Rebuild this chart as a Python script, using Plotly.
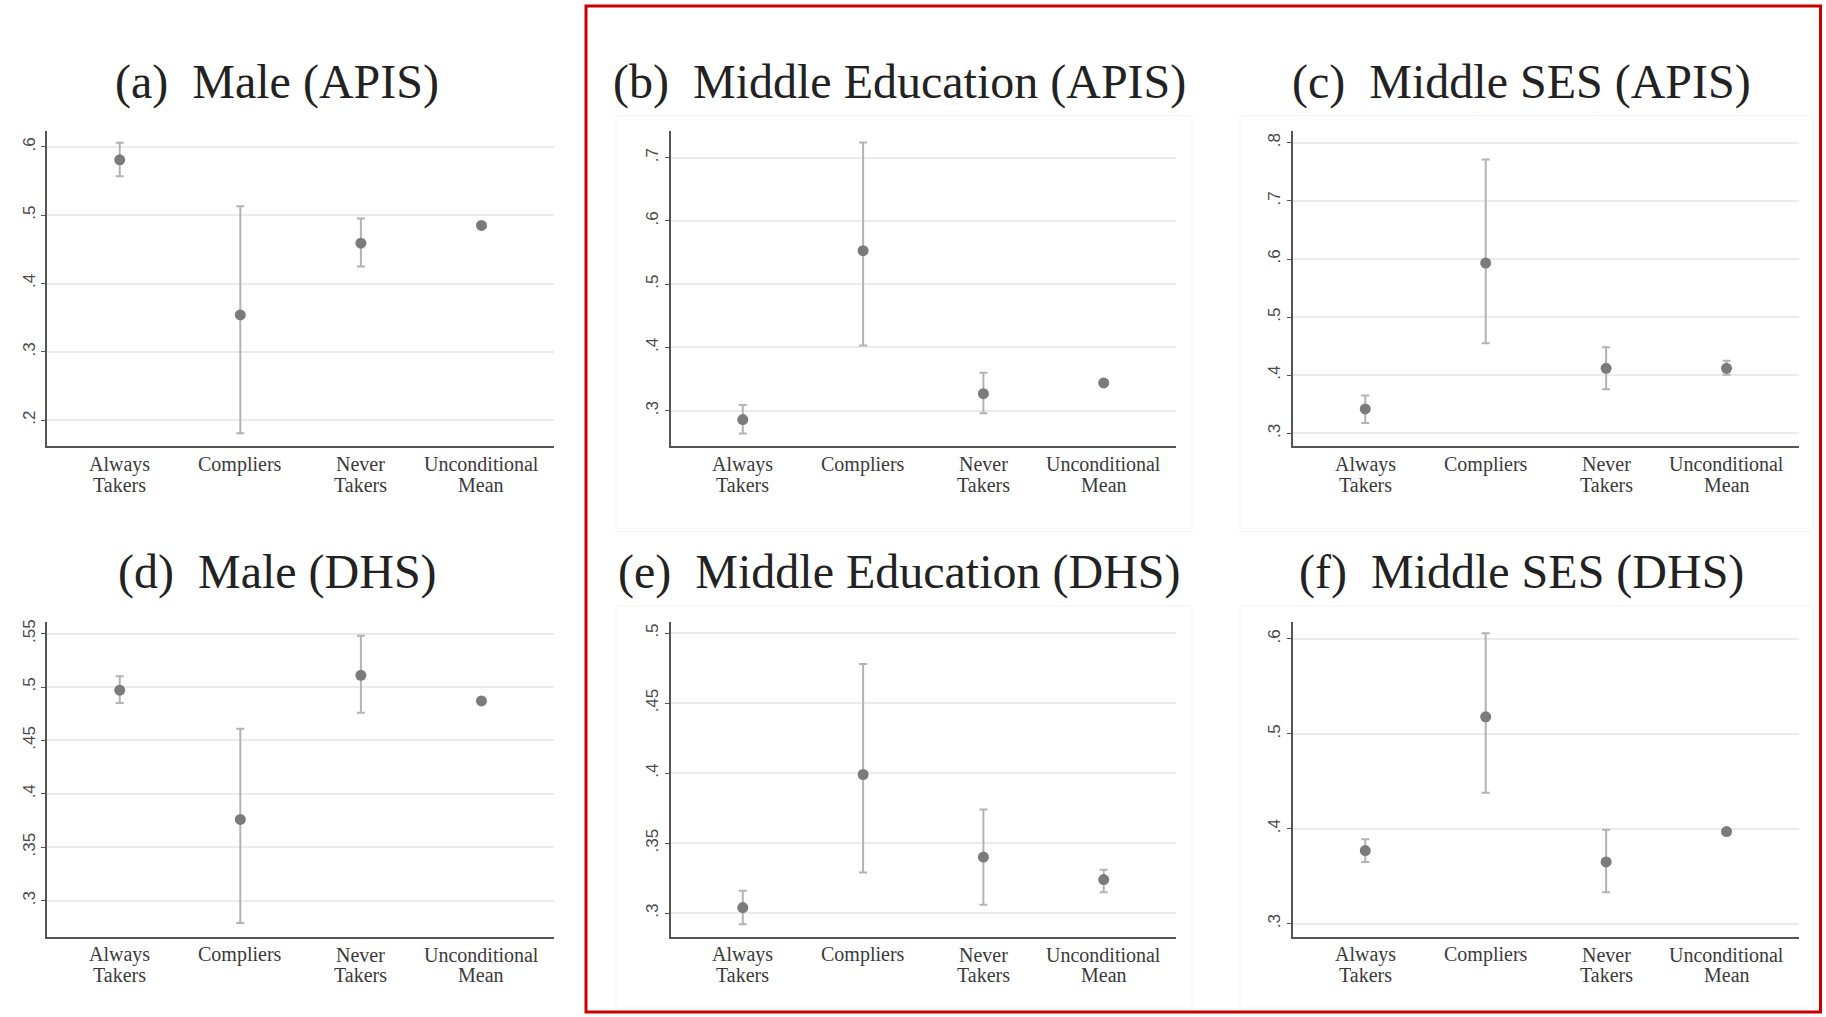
import plotly.graph_objects as go

W, H = 1826, 1017

# ---- data -------------------------------------------------------------
categories = ["Always Takers", "Compliers", "Never Takers", "Unconditional Mean"]
category_labels = ["Always<br>Takers", "Compliers", "Never<br>Takers", "Unconditional<br>Mean"]

titles = [
    "(a)  Male (APIS)",
    "(b)  Middle Education (APIS)",
    "(c)  Middle SES (APIS)",
    "(d)  Male (DHS)",
    "(e)  Middle Education (DHS)",
    "(f)  Middle SES (DHS)",
]

# point estimates and 95% confidence bounds (None = no interval drawn)
est_a = [0.581, 0.354, 0.459, 0.485]
lo_a = [0.557, 0.181, 0.425, None]
hi_a = [0.606, 0.513, 0.495, None]

est_b = [0.286, 0.553, 0.327, 0.344]
lo_b = [0.264, 0.403, 0.296, None]
hi_b = [0.309, 0.724, 0.360, None]

est_c = [0.342, 0.593, 0.412, 0.412]
lo_c = [0.318, 0.455, 0.376, 0.401]
hi_c = [0.365, 0.771, 0.448, 0.425]

est_d = [0.497, 0.376, 0.511, 0.487]
lo_d = [0.485, 0.279, 0.476, None]
hi_d = [0.510, 0.461, 0.548, None]

est_e = [0.304, 0.399, 0.340, 0.324]
lo_e = [0.292, 0.329, 0.306, 0.315]
hi_e = [0.316, 0.478, 0.374, 0.331]

est_f = [0.377, 0.518, 0.365, 0.397]
lo_f = [0.365, 0.438, 0.333, None]
hi_f = [0.389, 0.606, 0.399, None]

yticks_a = [0.2, 0.3, 0.4, 0.5, 0.6]
yticks_b = [0.3, 0.4, 0.5, 0.6, 0.7]
yticks_c = [0.3, 0.4, 0.5, 0.6, 0.7, 0.8]
yticks_d = [0.3, 0.35, 0.4, 0.45, 0.5, 0.55]
yticks_e = [0.3, 0.35, 0.4, 0.45, 0.5]
yticks_f = [0.3, 0.4, 0.5, 0.6]

yrange_a = [0.162, 0.623]
yrange_b = [0.244, 0.742]
yrange_c = [0.278, 0.820]
yrange_d = [0.266, 0.561]
yrange_e = [0.283, 0.508]
yrange_f = [0.286, 0.618]

# ---- layout geometry (pixels) -------------------------------------------
col_x = [(47.4, 553.8), (670.6, 1175.9), (1293.0, 1798.8)]
row_y = [(128.5, 444.5), (620.7, 936.7)]
title_cx = [277, 899, 1521]
title_cy = [79, 571]
label_gap = 18        # axis line to centre of first category-label line
label_step = 20.5     # distance between category-label lines

MARKER = "#7b7b7b"
ERRBAR = "#b3b3b3"
GRID = "#ebebeb"
AXIS = "#555555"
SERIF = "Liberation Serif, Times New Roman, serif"
SANS = "Liberation Sans, Arial, sans-serif"

panels = [
    (est_a, lo_a, hi_a, yticks_a, yrange_a),
    (est_b, lo_b, hi_b, yticks_b, yrange_b),
    (est_c, lo_c, hi_c, yticks_c, yrange_c),
    (est_d, lo_d, hi_d, yticks_d, yrange_d),
    (est_e, lo_e, hi_e, yticks_e, yrange_e),
    (est_f, lo_f, hi_f, yticks_f, yrange_f),
]


def tick_label(v):
    s = f"{v:.2f}".rstrip("0").rstrip(".")
    return s[1:] if s.startswith("0") else s


fig = go.Figure()
layout = {}
annotations = []

for i, (est, lo, hi, yt, yr) in enumerate(panels):
    row, col = divmod(i, 3)
    n = "" if i == 0 else str(i + 1)
    x0, x1 = col_x[col]
    y0, y1 = row_y[row]

    err_plus = [0 if h is None else h - e for e, h in zip(est, hi)]
    err_minus = [0 if l is None else e - l for e, l in zip(est, lo)]

    fig.add_trace(go.Scatter(
        x=categories, y=est, mode="markers",
        xaxis="x" + n, yaxis="y" + n,
        marker=dict(color=MARKER, size=11, line=dict(width=0)),
        error_y=dict(type="data", symmetric=False, array=err_plus,
                     arrayminus=err_minus, color=ERRBAR, thickness=2, width=4),
        showlegend=False, hoverinfo="x+y",
    ))

    layout["xaxis" + n] = dict(
        domain=[x0 / W, x1 / W], anchor="y" + n,
        type="category", categoryorder="array", categoryarray=categories,
        range=[-0.6, 3.6], showticklabels=False,
        showline=True, linecolor=AXIS, linewidth=2,
        showgrid=False, zeroline=False, ticks="",
        fixedrange=True,
    )
    layout["yaxis" + n] = dict(
        domain=[1 - y1 / H, 1 - y0 / H], anchor="x" + n,
        range=yr,
        tickmode="array", tickvals=yt, ticktext=[tick_label(v) for v in yt],
        tickangle=-90,
        tickfont=dict(family=SANS, size=17, color="#4a4a4a"),
        ticks="outside", ticklen=4, tickcolor=AXIS, tickwidth=1,
        showline=True, linecolor=AXIS, linewidth=2,
        showgrid=True, gridcolor=GRID, gridwidth=1.5,
        zeroline=False, fixedrange=True,
    )

    # category labels, one text line per annotation for tight line spacing
    for cat, lab in zip(categories, category_labels):
        for k, line in enumerate(lab.split("<br>")):
            annotations.append(dict(
                text=line, xref="x" + n, yref="paper",
                x=cat, y=1 - (y1 + label_gap + k * label_step) / H,
                xanchor="center", yanchor="middle", showarrow=False,
                font=dict(family=SERIF, size=20, color="#3a3a3a"),
            ))

    annotations.append(dict(
        text=titles[i], xref="paper", yref="paper",
        x=title_cx[col] / W, y=1 - title_cy[row] / H,
        xanchor="center", yanchor="middle", showarrow=False,
        font=dict(family=SERIF, size=48, color="#222222"),
    ))

# faint outlines of each graph region
shapes = []
region_x = [(616, 1192), (1240, 1813)]
region_y = [(113, 530), (605, 1008)]
for (rx0, rx1) in region_x:
    for (ry0, ry1) in region_y:
        shapes.append(dict(
            type="rect", xref="paper", yref="paper",
            x0=rx0 / W, x1=rx1 / W, y0=1 - ry1 / H, y1=1 - ry0 / H,
            line=dict(color="#f4f4f4", width=1), layer="below",
        ))

# red frame around the middle and right columns
shapes.append(dict(
    type="rect", xref="paper", yref="paper",
    x0=586 / W, x1=1820.5 / W, y0=1 - 1012 / H, y1=1 - 3 / H,
    line=dict(color="#c80000", width=3),
))

fig.update_layout(
    **layout,
    width=W, height=H,
    margin=dict(l=0, r=0, t=0, b=0),
    paper_bgcolor="white", plot_bgcolor="white",
    annotations=annotations, shapes=shapes,
)

fig.write_html("out.html", config={"displayModeBar": False})
